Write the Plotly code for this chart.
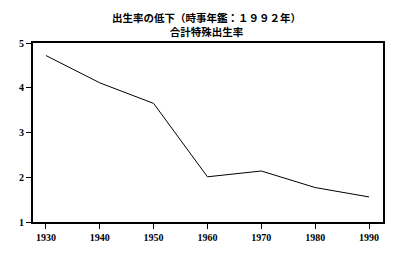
import plotly.graph_objects as go

years = [1930, 1940, 1950, 1960, 1970, 1980, 1990]
tfr = [4.72, 4.11, 3.65, 2.01, 2.14, 1.77, 1.56]
x_ticks = [1930, 1940, 1950, 1960, 1970, 1980, 1990]
y_ticks = [1, 2, 3, 4, 5]
title_lines = ["出生率の低下（時事年鑑：１９９２年）", "合計特殊出生率"]

fig = go.Figure()
fig.add_trace(go.Scatter(x=years, y=tfr, mode="lines",
                         line=dict(color="black", width=1)))

top_px, bottom_px = 43, 228
def paper_y(px):
    return (bottom_px - px) / (bottom_px - top_px)

fig.add_annotation(text="<br>".join(title_lines), xref="paper", yref="paper", x=0.495, y=paper_y(24),
                   xanchor="center", yanchor="middle", showarrow=False, align="center",
                   font=dict(family="Noto Sans CJK JP", size=10.5, color="black", weight="bold"))

fig.update_layout(
    width=400, height=255,
    margin=dict(l=33, r=17, t=43, b=27),
    paper_bgcolor="white", plot_bgcolor="white",
    showlegend=False,
)
fig.update_xaxes(range=[1927.6, 1992.6], tickvals=x_ticks, ticktext=[str(v) for v in x_ticks],
                 showgrid=False, zeroline=False, showline=True, linecolor="black", linewidth=2,
                 mirror=True, ticks="outside", ticklen=5, tickcolor="black", tickwidth=1,
                 tickfont=dict(family="Liberation Serif", size=10, color="black", weight="bold"))
fig.update_yaxes(range=[1, 5], tickvals=y_ticks,
                 showgrid=False, zeroline=False, showline=True, linecolor="black", linewidth=2,
                 mirror=True, ticks="outside", ticklen=5, tickcolor="black", tickwidth=1,
                 tickfont=dict(family="Liberation Serif", size=10, color="black", weight="bold"))

fig.write_html("out.html")
